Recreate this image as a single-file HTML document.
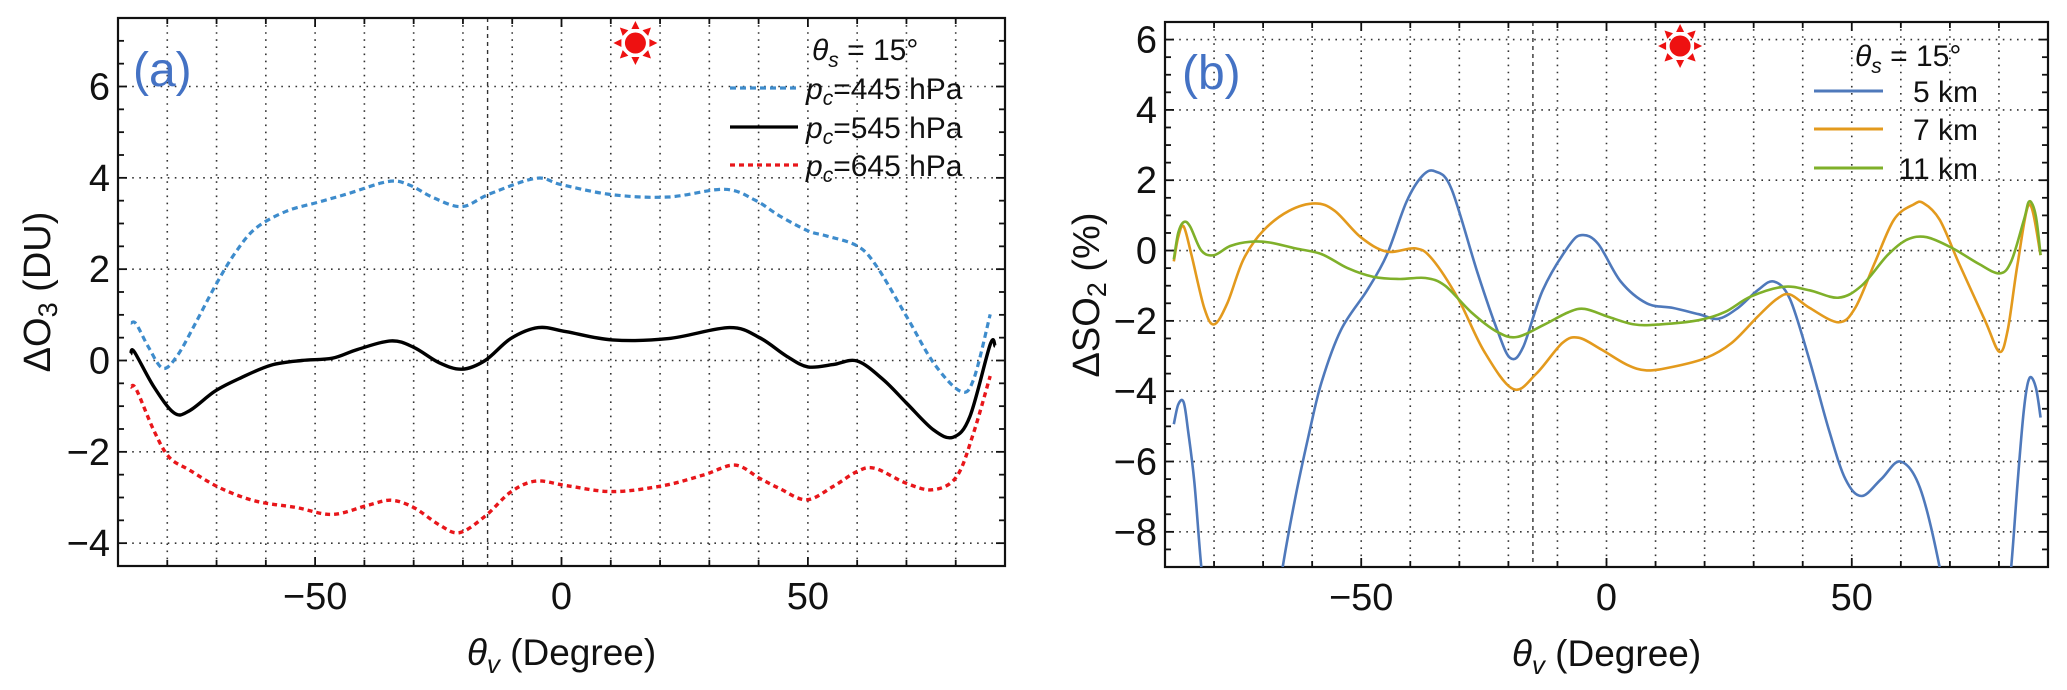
<!DOCTYPE html>
<html><head><meta charset="utf-8">
<style>
html,body{margin:0;padding:0;background:#fff;width:2067px;height:690px;overflow:hidden;}
svg{display:block;}
text{font-family:"Liberation Sans",sans-serif;fill:#111;}
</style></head>
<body>
<svg id="chart" width="2067" height="690" viewBox="0 0 2067 690" xmlns="http://www.w3.org/2000/svg">
<defs>
<clipPath id="clipA"><rect x="118" y="18" width="887" height="548"/></clipPath>
<clipPath id="clipB"><rect x="1165" y="22" width="883" height="545"/></clipPath>
</defs>
<g id="panelA"></g>
<g id="panelB"></g>
</svg>
<script>
// ---- Panel (a) data ----
const a445X = [-87.4,-86.3,-83.8,-80.9,-78,-74.5,-70.3,-66.2,-62,-55.8,-49.6,-43.4,-35.2,-31,-25.9,-20.2,-14.5,-5.2,0,10.3,21.7,33.1,39.3,44.2,50,53.7,60,63.9,70,75.5,80.9,83.6,87];
const a445Y = [0.82,0.8,0.29,-0.17,0.1,0.77,1.63,2.36,2.9,3.27,3.46,3.65,3.92,3.85,3.56,3.37,3.65,3.99,3.85,3.63,3.58,3.75,3.51,3.17,2.84,2.73,2.51,2.07,0.97,-0.05,-0.67,-0.42,1.01];
const a545X = [-87.4,-86.7,-82.7,-78.6,-75.5,-70.3,-65.1,-58.9,-52.7,-46.5,-41.4,-34.6,-30,-24.8,-20.2,-15.5,-10.3,-4.7,1,10.3,21.7,34.1,40.2,45.6,50,55.1,60,65.3,70,75.5,79.5,82.9,87,88];
const a545Y = [0.14,0.19,-0.58,-1.15,-1.1,-0.67,-0.38,-0.1,0,0.05,0.24,0.43,0.29,-0.05,-0.19,0,0.48,0.72,0.63,0.45,0.48,0.72,0.5,0.1,-0.14,-0.09,-0.01,-0.42,-0.93,-1.52,-1.68,-1.22,0.35,0.31];
const a645X = [-87.4,-86.3,-82.7,-79.6,-75.5,-69.3,-62,-53.8,-46.5,-39.3,-34.6,-30,-24.8,-20.7,-15.5,-10.3,-5.2,1,10.3,20.7,29,35.2,40.2,44.2,49.7,55.1,60,63.6,70,75.5,80.2,83.6,87];
const a645Y = [-0.58,-0.63,-1.54,-2.12,-2.4,-2.79,-3.08,-3.22,-3.37,-3.17,-3.06,-3.22,-3.6,-3.77,-3.41,-2.88,-2.64,-2.74,-2.87,-2.74,-2.5,-2.29,-2.58,-2.8,-3.05,-2.76,-2.43,-2.36,-2.69,-2.83,-2.54,-1.59,-0.34];
const aXTicks = [-50,0,50];
const aYTicks = [-4,-2,0,2,4,6];
const aLegend = ["=445 hPa","=545 hPa","=645 hPa"];
// ---- Panel (b) data ----
const b5X = [-88.2,-87.3,-86.2,-85.3,-84,-82.6,-81,-75,-68,-66,-63.4,-60.7,-58.1,-54.1,-48.8,-44.8,-40.8,-37.5,-34.9,-31.6,-26.3,-22.3,-19.6,-17,-13,-7.7,-5,-1.7,2.9,8.2,13.5,18.8,22.8,26.8,30.8,34.1,37.4,41.4,45.4,48.7,52,56,59.9,63.9,67.9,70,75,81,82.5,83.8,85.1,86.2,87.5,88.5];
const b5Y = [-4.94,-4.38,-4.31,-5.13,-6.6,-9,-11,-20,-11,-9,-7,-5.25,-3.75,-2.25,-1.13,-0.13,1.38,2.13,2.25,1.75,-0.63,-2.25,-3.06,-2.75,-1.13,0.13,0.44,0.19,-0.88,-1.5,-1.63,-1.81,-1.94,-1.63,-1.13,-0.88,-1.38,-3.13,-5.13,-6.5,-6.98,-6.5,-6,-6.75,-9,-11,-20,-11,-9,-6.6,-4.5,-3.63,-3.88,-4.75];
const b7X = [-88.2,-87.3,-86.2,-84.6,-82,-80,-77.3,-74,-70,-64.7,-59.4,-55.4,-50.1,-44.8,-38.9,-35.5,-30.2,-24.9,-19,-14.3,-9,-5.7,-1.1,4.2,8.2,13.5,20.2,25.5,30.8,34.7,37.4,41.4,47.3,50.7,54.6,58.6,62.6,64.6,67.9,71.9,77.2,80.1,81.8,83.8,86.2,88.5];
const b7Y = [-0.31,0.38,0.69,-0.13,-1.63,-2.1,-1.5,-0.25,0.56,1.13,1.34,1.13,0.38,-0.03,0.06,-0.25,-1.38,-2.88,-3.94,-3.5,-2.63,-2.48,-2.81,-3.25,-3.41,-3.31,-3.06,-2.63,-1.88,-1.38,-1.25,-1.63,-2.04,-1.63,-0.38,0.88,1.31,1.35,0.88,-0.38,-2,-2.88,-2.25,-0.38,1.31,-0.13];
const b11X = [-88.2,-87.3,-86.2,-84.9,-82.6,-80,-76.7,-72.7,-68.7,-63.4,-58.1,-52.8,-47.5,-42.2,-36.9,-32.9,-27.6,-22.3,-18.3,-13,-7.7,-4.4,0.3,5.6,10.9,18.8,24.1,29.4,36.1,41.4,47.3,52,57.3,61.3,65.3,70.6,75.9,80.1,82.5,85.1,86.2,87.5,88.5];
const b11Y = [-0.25,0.5,0.81,0.69,0,-0.13,0.13,0.25,0.23,0.06,-0.1,-0.5,-0.75,-0.81,-0.78,-1,-1.75,-2.31,-2.46,-2.13,-1.75,-1.66,-1.88,-2.1,-2.1,-1.98,-1.75,-1.31,-1.03,-1.13,-1.34,-1,-0.13,0.31,0.38,0.06,-0.38,-0.65,-0.31,0.88,1.4,1,-0.13];
const bXTicks = [-50,0,50];
const bYTicks = [-8,-6,-4,-2,0,2,4,6];
const bLegend = ["5 km","7 km","11 km"];

const NS = "http://www.w3.org/2000/svg";
function mk(parent, tag, attrs, txt){
  const e = document.createElementNS(NS, tag);
  for (const k in attrs) e.setAttribute(k, attrs[k]);
  if (txt !== undefined) e.textContent = txt;
  parent.appendChild(e); return e;
}
function smoothPath(xs, ys, sx, sy){
  const p = xs.map((x,i)=>[sx(x), sy(ys[i])]);
  let d = "M"+p[0][0].toFixed(1)+","+p[0][1].toFixed(1);
  for (let i=0;i<p.length-1;i++){
    const p0=p[Math.max(0,i-1)], p1=p[i], p2=p[i+1], p3=p[Math.min(p.length-1,i+2)];
    const c1=[p1[0]+(p2[0]-p0[0])/6, p1[1]+(p2[1]-p0[1])/6];
    const c2=[p2[0]-(p3[0]-p1[0])/6, p2[1]-(p3[1]-p1[1])/6];
    d += " C"+c1[0].toFixed(1)+","+c1[1].toFixed(1)+" "+c2[0].toFixed(1)+","+c2[1].toFixed(1)+" "+p2[0].toFixed(1)+","+p2[1].toFixed(1);
  }
  return d;
}
function drawSun(g, cx, cy){
  const s = mk(g,"g",{});
  
  
  mk(s,"circle",{cx:cx,cy:cy,r:10.5,fill:"#ee1111"});
  for (let k=0;k<8;k++){
    const a = k*Math.PI/4;
    const r1=14, r2=22, w=4;
    const tx=cx+Math.cos(a)*r2, ty=cy+Math.sin(a)*r2;
    const bx=cx+Math.cos(a)*r1, by=cy+Math.sin(a)*r1;
    const px=-Math.sin(a)*w, py=Math.cos(a)*w;
    mk(s,"polygon",{points:`${tx},${ty} ${bx+px},${by+py} ${bx-px},${by-py}`,fill:"#ee1111"});
  }
}
function axes(g, L, R, T, B, xmin, xmax, ymin, ymax, xt, yt, yminor){
  const sx = v => L + (v-xmin)/(xmax-xmin)*(R-L);
  const sy = v => B - (v-ymin)/(ymax-ymin)*(B-T);
  const grid = mk(g,"g",{stroke:"#333","stroke-width":1.6,"stroke-dasharray":"1.6,5.5",fill:"none"});
  
  
  for (let v=-80; v<=80; v+=10) mk(grid,"line",{x1:sx(v),x2:sx(v),y1:T,y2:B});
  for (const v of yt) mk(grid,"line",{x1:L,x2:R,y1:sy(v),y2:sy(v)});
  mk(g,"line",{x1:sx(-15),x2:sx(-15),y1:T,y2:B,stroke:"#333","stroke-width":1.4,"stroke-dasharray":"4,4"});
  const tk = mk(g,"g",{stroke:"#111","stroke-width":1.8});
  for (let v=-80; v<=80; v+=10){
    const len = (v%50===0)?9:6;
    mk(tk,"line",{x1:sx(v),x2:sx(v),y1:B,y2:B-len});
    mk(tk,"line",{x1:sx(v),x2:sx(v),y1:T,y2:T+len});
  }
  for (let v=Math.ceil(ymin/yminor)*yminor; v<=ymax; v+=yminor){
    const major = yt.some(t=>Math.abs(t-v)<1e-6);
    const len = major?9:6;
    mk(tk,"line",{x1:L,x2:L+len,y1:sy(v),y2:sy(v)});
    mk(tk,"line",{x1:R,x2:R-len,y1:sy(v),y2:sy(v)});
  }
  const fr = mk(g,"rect",{x:L,y:T,width:R-L,height:B-T,fill:"none",stroke:"#111","stroke-width":2.2});
  
  
  for (const v of xt){
    const t = mk(g,"text",{x:sx(v),y:B+43,"font-size":38,"text-anchor":"middle"}, v<0?("\u2212"+Math.abs(v)):String(v));
    
    
  }
  for (const v of yt){
    const t = mk(g,"text",{x:L-8,y:sy(v)+13,"font-size":38,"text-anchor":"end"}, v<0?("\u2212"+Math.abs(v)):String(v));
    
    
  }
  const xtl = mk(g,"text",{x:(L+R)/2,y:B+99,"font-size":37,"text-anchor":"middle"});
  
  
  mk(xtl,"tspan",{"font-style":"italic"},"\u03B8");
  mk(xtl,"tspan",{"font-style":"italic","font-size":26,dy:8},"v");
  mk(xtl,"tspan",{dy:-8}," (Degree)");
  return {sx, sy};
}

// ---- Panel A ----
(function(){
  const g = document.getElementById('panelA');
  const {sx, sy} = axes(g,118,1005,18,566,-90,90,-4.5,7.5,aXTicks,aYTicks,0.5);
  const yt = mk(g,"text",{transform:"translate(50,292) rotate(-90)","font-size":38,"text-anchor":"middle"});
  
  
  mk(yt,"tspan",{},"\u0394O");
  mk(yt,"tspan",{"font-size":27,dy:7},"3");
  mk(yt,"tspan",{dy:-7}," (DU)");
  const lbl = mk(g,"text",{x:133,y:86,"font-size":48,style:"fill:#4472c4"},"(a)");
  
  
  drawSun(g, sx(15), 43);
  const lines = mk(g,"g",{"clip-path":"url(#clipA)",fill:"none"});
  const s1 = mk(lines,"path",{d:smoothPath(a445X,a445Y,sx,sy),stroke:"#3e8ccc","stroke-width":3.2,"stroke-dasharray":"6,4"});
  
  
  const s2 = mk(lines,"path",{d:smoothPath(a545X,a545Y,sx,sy),stroke:"#000","stroke-width":3.4});
  
  
  const s3 = mk(lines,"path",{d:smoothPath(a645X,a645Y,sx,sy),stroke:"#e8161a","stroke-width":3.4,"stroke-dasharray":"5,4"});
  
  
  const lg = mk(g,"g",{});
  
  
  const tt = mk(lg,"text",{x:812,y:60,"font-size":30});
  mk(tt,"tspan",{"font-style":"italic"},"\u03B8");
  mk(tt,"tspan",{"font-style":"italic","font-size":21,dy:7},"s");
  mk(tt,"tspan",{dy:-7}," = 15\u00B0");
  const styles = [{stroke:"#3e8ccc","stroke-dasharray":"6,4"},{stroke:"#000"},{stroke:"#e8161a","stroke-dasharray":"5,4"}];
  const rows = [88,127,165];
  aLegend.forEach((txt,i)=>{
    const ln = mk(lg,"line",Object.assign({x1:730,x2:798,y1:rows[i],y2:rows[i],"stroke-width":3.2},styles[i]));
    
    
    const t = mk(lg,"text",{x:806,y:rows[i]+11,"font-size":30});
    
    
    mk(t,"tspan",{"font-style":"italic"},"p");
    mk(t,"tspan",{"font-style":"italic","font-size":21,dy:6},"c");
    mk(t,"tspan",{dy:-6},txt);
  });
})();

// ---- Panel B ----
(function(){
  const g = document.getElementById('panelB');
  const {sx, sy} = axes(g,1165,2048,22,567,-90,90,-9,6.5,bXTicks,bYTicks,0.5);
  const yt = mk(g,"text",{transform:"translate(1099,295) rotate(-90)","font-size":38,"text-anchor":"middle"});
  
  
  mk(yt,"tspan",{},"\u0394SO");
  mk(yt,"tspan",{"font-size":27,dy:7},"2");
  mk(yt,"tspan",{dy:-7}," (%)");
  const lbl = mk(g,"text",{x:1182,y:89,"font-size":48,style:"fill:#4472c4"},"(b)");
  
  
  drawSun(g, sx(15), 46);
  const lines = mk(g,"g",{"clip-path":"url(#clipB)",fill:"none","stroke-width":2.6});
  const cols = ["#4f79bb","#e39a1d","#7fb02a"];
  const sets = [[b5X,b5Y,'series-5km'],[b7X,b7Y,'series-7km'],[b11X,b11Y,'series-11km']];
  sets.forEach((s,i)=>{
    const p = mk(lines,"path",{d:smoothPath(s[0],s[1],sx,sy),stroke:cols[i]});
    
    
  });
  const lg = mk(g,"g",{});
  
  
  const tt = mk(lg,"text",{x:1855,y:66,"font-size":30});
  mk(tt,"tspan",{"font-style":"italic"},"\u03B8");
  mk(tt,"tspan",{"font-style":"italic","font-size":21,dy:7},"s");
  mk(tt,"tspan",{dy:-7}," = 15\u00B0");
  const rows = [91,129,168];
  bLegend.forEach((txt,i)=>{
    const ln = mk(lg,"line",{x1:1814,x2:1883,y1:rows[i],y2:rows[i],stroke:cols[i],"stroke-width":3});
    
    
    const t = mk(lg,"text",{x:1978,y:rows[i]+11,"font-size":30,"text-anchor":"end"},txt);
    
    
  });
})();
</script>
</body></html>
